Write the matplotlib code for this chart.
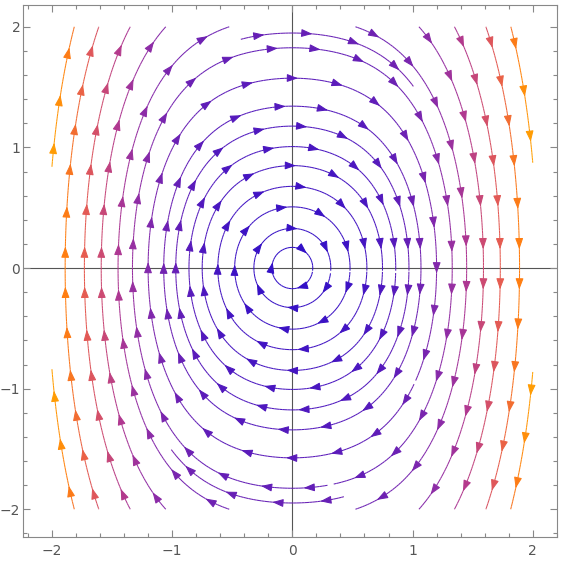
import matplotlib
matplotlib.use("Agg")
import matplotlib.pyplot as plt
import numpy as np
from matplotlib.colors import LinearSegmentedColormap, Normalize
from matplotlib.patches import FancyArrowPatch
from matplotlib.ticker import MultipleLocator

## vector field: u = y, v = -x - x^3, coloured by speed
xs = np.linspace(-2, 2, 201)
ys = np.linspace(-2, 2, 201)
X, Y = np.meshgrid(xs, ys)
U = Y
V = -X - X**3
speed = np.hypot(U, V)

## where the streamlines cross the x axis
closed_x = [0.17, 0.32, 0.48, 0.62, 0.75, 0.86, 0.97, 1.07, 1.20, 1.33]
open_x = [1.45, 1.59, 1.73, 1.89]
## short pieces in the corners and the two loose pieces at top / bottom
corner_pts = [(1.99, 0.98), (-1.99, 0.95), (-1.99, -0.95), (1.99, -0.97)]
frag_pts = [(-0.45, 1.89), (0.45, -1.89)]

colors = ["#2e0ec8", "#4a16c0", "#6a20b4", "#8e2ca6", "#b03890",
          "#cc4a72", "#e65c50", "#ff7f10", "#ffa500"]
nodes = [0.0, 0.1, 0.2, 0.33, 0.45, 0.55, 0.68, 0.85, 1.0]
cmap = LinearSegmentedColormap.from_list("mma", list(zip(nodes, colors)))
norm = Normalize(0, speed.max())

fig = plt.figure(figsize=(5.63, 5.62), dpi=100)
ax = fig.add_axes([0.041, 0.0445, 0.948, 0.9465])

runs = []  # (StreamplotSet, number of arrows)


def stream(pt, n_arrows, direction="both", maxlength=4.0):
    sp = ax.streamplot(X, Y, U, V, start_points=[pt], color=speed, cmap=cmap,
                       norm=norm, linewidth=0.75, arrowsize=1.0,
                       density=6, integration_direction=direction,
                       maxlength=maxlength, zorder=3)
    runs.append((sp, n_arrows))


for x0 in closed_x:
    a = x0
    b = np.sqrt(x0**2 + x0**4 / 2)
    per = np.pi * (3 * (a + b) - np.sqrt((3 * a + b) * (a + 3 * b)))
    stream((x0, 0.0), max(2, int(round(per / 0.36))))

for x0 in open_x:
    stream((x0, 0.0), 12)
    stream((-x0, 0.0), 12)

for p in corner_pts:
    stream(p, 3)

for p in frag_pts:
    stream(p, 4, direction="forward", maxlength=0.4)

## drop streamplot's single arrow, put several along each line instead
for p in list(ax.patches):
    p.remove()

for sp, n in runs:
    segs = sp.lines.get_segments()
    if len(segs) == 0:
        continue
    vals = np.asarray(sp.lines.get_array())
    p0 = np.array([s[0] for s in segs])
    p1 = np.array([s[-1] for s in segs])
    ds = np.hypot(*(p1 - p0).T)
    s_cum = np.cumsum(ds)
    total = s_cum[-1]
    for k in range(n):
        target = (k + 0.5) * total / n
        i = int(np.searchsorted(s_cum, target))
        i = min(i, len(segs) - 1)
        c = cmap(norm(vals[i]))
        ax.add_patch(FancyArrowPatch(tuple(p0[i]), tuple(p1[i]),
                                     arrowstyle="-|>,head_length=0.55,head_width=0.2",
                                     mutation_scale=12,
                                     color=c, lw=0.75, shrinkA=0, shrinkB=0,
                                     zorder=4))

## axes through the origin
ax.axhline(0, color="#555555", lw=0.8, zorder=1)
ax.axvline(0, color="#555555", lw=0.8, zorder=1)

ax.set_xlim(-2.24, 2.2)
ax.set_ylim(-2.23, 2.18)
ax.xaxis.set_major_locator(MultipleLocator(1))
ax.yaxis.set_major_locator(MultipleLocator(1))
ax.xaxis.set_minor_locator(MultipleLocator(0.2))
ax.yaxis.set_minor_locator(MultipleLocator(0.2))
ax.tick_params(which="both", direction="in", top=True, right=True,
               color="#888888", width=0.8, labelcolor="#555555", labelsize=10)
ax.tick_params(which="major", length=5)
ax.tick_params(which="minor", length=3)
ax.tick_params(axis="x", pad=5)
ax.tick_params(axis="y", pad=2)
for s in ax.spines.values():
    s.set_color("#888888")
    s.set_linewidth(0.8)

fig.savefig("out.png", dpi=100)
